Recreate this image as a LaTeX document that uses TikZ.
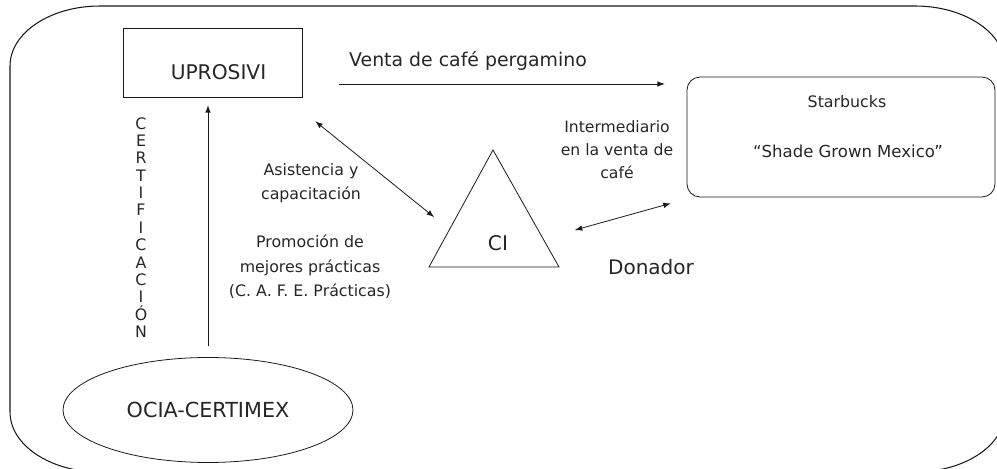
\documentclass[tikz,border=0pt]{standalone}
\usepackage{fontspec}
\setmainfont{DejaVu Sans}
\usetikzlibrary{shapes.geometric,positioning}

\begin{document}
\begin{tikzpicture}[
	x=0.02cm, y=-0.02cm,
	line width=0.45pt, draw=black!90,
	rec/.style      = {draw, rectangle, minimum width=3.58cm, minimum height=1.38cm},
	roundrec/.style = {draw, rectangle, rounded corners=0.26cm, minimum width=6.16cm, minimum height=2.4cm},
	oval/.style     = {draw, ellipse, minimum width=5.8cm, minimum height=2.1cm, inner sep=0pt, text=black!85, font=\fontsize{11.8}{14}\selectfont},
	txt/.style      = {align=center, text=black!85, font=\fontsize{9}{13.8}\selectfont},
	big/.style      = {txt, font=\fontsize{11.5}{14}\selectfont},
	>=latex]
	
	\useasboundingbox (0,0) rectangle (997,469);
	
	% outer frame
	\draw[line width=0.6pt] (10,66) arc[start angle=180, end angle=90, x radius=1.8cm, y radius=1.2cm]
		-- (915,6) arc[start angle=90, end angle=0, x radius=1.8cm, y radius=1.2cm]
		-- (1005,412) arc[start angle=0, end angle=-90, x radius=1.8cm, y radius=1.2cm]
		-- (100,472) arc[start angle=-90, end angle=-180, x radius=1.8cm, y radius=1.2cm]
		-- cycle;
	
	% the actors
	\node[rec] (up) at (212.5,62.5) {};
	\node[big] (uptxt) at ([shift={(6,10)}]up.center) {UPROSIVI};
	
	\node[roundrec] (star) at (841,137) {};
	\node[txt] (sb) at ([shift={(6,-35)}]star.center) {Starbucks};
	\node[txt, font=\fontsize{9.4}{12}\selectfont] (shade) at ([shift={(7,14)}]star.center) {“Shade Grown Mexico”};
	
	\draw (493,150) -- (559,267) -- (429,267) -- cycle;
	\node[big] (ci) at (498,243) {CI};
	
	\node[oval] (ocia) at (208,410) {OCIA-CERTIMEX};
	
	% labels
	\node[txt, font=\fontsize{10.75}{14}\selectfont] (venta) at (468,61) {Venta de café pergamino};
	\node[txt, font=\fontsize{9}{13.7}\selectfont] (asist) at (311,183) {Asistencia y\\capacitación};
	\node[txt, font=\fontsize{9}{13.9}\selectfont] (promo) at (310,267) {Promoción de\\mejores prácticas\\(C. A. F. E. Prácticas)};
	\node[txt, font=\fontsize{8.9}{13.1}\selectfont] (inter) at (617,150) {Intermediario\\en la venta de\\café};
	\node[big, font=\fontsize{11.4}{14}\selectfont] (donador) at (651,267) {Donador};
	\node[txt, font=\fontsize{9}{9.9}\selectfont] (cert) at (141,227.5) {C\\E\\R\\T\\I\\F\\I\\C\\A\\C\\I\\Ó\\N};
	
	% relations
	\draw[->, shorten <=0.22cm, shorten >=0.16cm] (ocia.north) -- (ocia.north |- up.south);
	\draw[->, shorten <=0.74cm, shorten >=0.44cm] ([yshift=-0.43cm]up.east) -- ([yshift=-0.43cm]up.east -| star.west);
	\draw[<->] ([shift={(13,24)}]up.south east) -- ([shift={(-64,-26)}]ci.center);
	\draw[<->] ([shift={(77,-13)}]ci.center) -- ([shift={(-16,6)}]star.south west);
\end{tikzpicture}
\end{document}
